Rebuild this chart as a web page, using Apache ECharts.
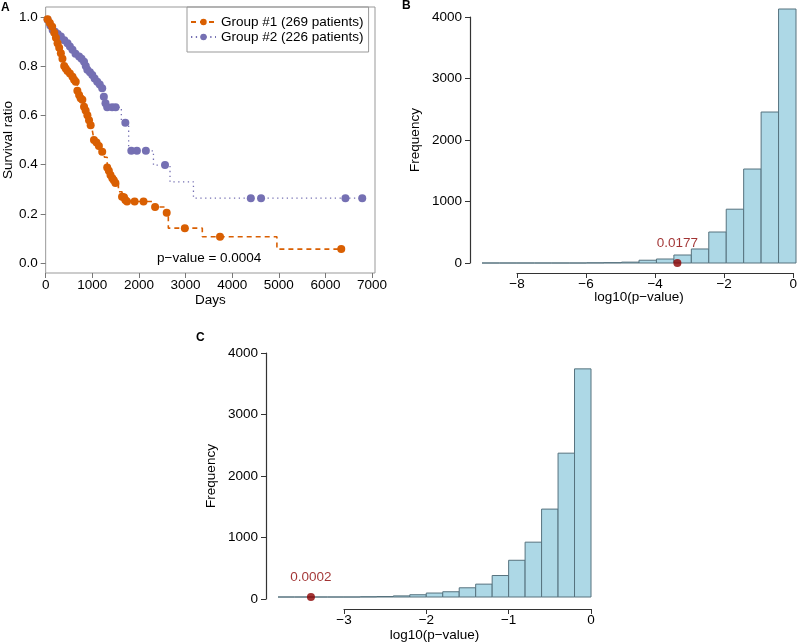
<!DOCTYPE html>
<html><head><meta charset="utf-8">
<script src="https://cdn.jsdelivr.net/npm/echarts@6/dist/echarts.min.js"></script>
<style>html,body{margin:0;padding:0;background:#fff}#c{width:800px;height:643px}</style>
</head><body><div id="c"></div>
<script>
// ---------- Panel A: Kaplan-Meier curves ----------
const groupNames = ['Group #1 (269 patients)', 'Group #2 (226 patients)'];
const g1Time = [0,40,90,140,185,220,255,290,326,360,397,430,468,520,575,610,645,680,717,750,787,823,857,895,930,965,1000,1036,1090,1142,1213,1260,1320,1355,1390,1430,1461,1496,1560,1638,1680,1709,1745,1908,2099,2300,2347,2560,2596,2631,2985,3360,3740,4960,6340];
const g1Surv = [1.0,0.99,0.975,0.96,0.935,0.915,0.893,0.875,0.852,0.83,0.80,0.79,0.78,0.77,0.757,0.745,0.737,0.70,0.683,0.67,0.663,0.635,0.62,0.60,0.58,0.56,0.54,0.50,0.49,0.476,0.452,0.43,0.388,0.375,0.358,0.345,0.337,0.325,0.29,0.27,0.268,0.256,0.25,0.25,0.25,0.228,0.228,0.205,0.205,0.142,0.142,0.107,0.107,0.057,0.057];
const g1Cens = [0,1,1,1,1,1,1,1,1,1,1,1,1,1,1,1,1,1,1,1,1,1,1,1,1,1,0,1,1,1,1,0,1,1,1,1,1,1,0,1,1,1,1,1,1,0,1,0,1,0,1,0,1,0,1];
const g2Time = [0,42,100,150,200,260,326,400,468,520,575,640,717,770,823,860,894,950,1000,1050,1106,1160,1213,1248,1283,1320,1425,1500,1623,1709,1780,1837,1957,2149,2312,2560,2667,3170,4400,4620,6430,6790];
const g2Surv = [1.0,0.988,0.965,0.947,0.94,0.93,0.92,0.905,0.893,0.88,0.866,0.85,0.839,0.83,0.818,0.80,0.785,0.775,0.764,0.75,0.737,0.725,0.71,0.676,0.649,0.633,0.633,0.633,0.57,0.57,0.456,0.456,0.456,0.456,0.398,0.398,0.33,0.264,0.264,0.264,0.264,0.264];
const g2Cens = [0,1,1,1,1,1,1,1,1,1,1,1,1,1,1,1,1,1,1,1,1,1,1,1,1,1,1,1,0,1,0,1,1,1,0,1,0,0,1,1,1,1];
const daysTicks = [0,1000,2000,3000,4000,5000,6000,7000];
const survTicks = [0.0,0.2,0.4,0.6,0.8,1.0];
const pValueText = 'p\u2212value = 0.0004';

// ---------- Panel B: histogram ----------
const bLower = [-9,-8.5,-8,-7.5,-7,-6.5,-6,-5.5,-5,-4.5,-4,-3.5,-3,-2.5,-2,-1.5,-1,-0.5];
const bUpper = [-8.5,-8,-7.5,-7,-6.5,-6,-5.5,-5,-4.5,-4,-3.5,-3,-2.5,-2,-1.5,-1,-0.5,0];
const bCounts = [0,0,0,0,0,0,3,6,14,45,65,130,228,504,875,1528,2455,4130];
const bXTicks = [-8,-6,-4,-2,0];
const bObsX = [-3.4];
const bObsLabel = ['0.0177'];

// ---------- Panel C: histogram ----------
const cLower = [-3.8,-3.6,-3.4,-3.2,-3.0,-2.8,-2.6,-2.4,-2.2,-2.0,-1.8,-1.6,-1.4,-1.2,-1.0,-0.8,-0.6,-0.4,-0.2];
const cUpper = [-3.6,-3.4,-3.2,-3.0,-2.8,-2.6,-2.4,-2.2,-2.0,-1.8,-1.6,-1.4,-1.2,-1.0,-0.8,-0.6,-0.4,-0.2,0];
const cCounts = [0,0,0,0,0,4,8,18,37,65,86,151,211,352,602,899,1441,2358,3740];
const cXTicks = [-3,-2,-1,0];
const cObsX = [-3.4];
const cObsLabel = ['0.0002'];

const freqTicks = [0,1000,2000,3000,4000];

const FONT = 'Liberation Sans, Arial, Helvetica, sans-serif';
const FS = 13.5;
const ORANGE = '#D95F02', PURPLE = '#7570B3', DARKRED = '#8B0000', AXIS = '#333';
const minus = v => String(v).replace('-', '\u2212');
const plain = v => String(v);

function kmData(t, s, c) {
  return t.map((x, i) => ({ value: [x, s[i]], symbol: c[i] ? 'circle' : 'none' }));
}
function histData(lo, hi, n) { return lo.map((x, i) => [x, hi[i], n[i]]); }
function histItem(params, api) {
  const p0 = api.coord([api.value(0), api.value(2)]);
  const p1 = api.coord([api.value(1), 0]);
  return { type: 'rect', shape: { x: p0[0], y: p0[1], width: p1[0] - p0[0], height: p1[1] - p0[1] },
    style: { fill: '#ADD8E6', stroke: '#56727e', lineWidth: 1 } };
}
const txt = { color: '#000', fontFamily: FONT, fontSize: FS };
const off = { axisLine: { show: false, onZero: false }, axisTick: { show: false }, axisLabel: { show: false }, splitLine: { show: false } };
const hidden = (gi, min, max) => ({ gridIndex: gi, type: 'value', min, max, ...off });
const shownX = (gi, min, max, ticks) => ({ gridIndex: gi, type: 'value', min, max, position: 'bottom',
  axisLine: { show: true, onZero: false, lineStyle: { color: AXIS, width: 1.2 } },
  axisTick: { show: true, customValues: ticks, length: 5, lineStyle: { color: AXIS } },
  axisLabel: { customValues: ticks, margin: 4, formatter: minus, ...txt }, splitLine: { show: false } });
const shownY = (gi) => ({ gridIndex: gi, type: 'value', min: 0, max: 4000, position: 'left',
  axisLine: { show: true, onZero: false, lineStyle: { color: AXIS, width: 1.2 } },
  axisTick: { show: true, customValues: freqTicks, length: 5, lineStyle: { color: AXIS } },
  axisLabel: { customValues: freqTicks, margin: 8, formatter: plain, ...txt }, splitLine: { show: false },
  name: 'Frequency', nameLocation: 'middle', nameGap: 48, nameTextStyle: txt });

const chart = echarts.init(document.getElementById('c'), null, { renderer: 'canvas' });
chart.setOption({
  animation: false,
  backgroundColor: '#fff',
  grid: [
    { left: 43, top: 7, width: 332, height: 266, show: true, borderColor: '#999', borderWidth: 1 },
    { left: 482, top: 17, width: 314, height: 246 },   // B plot
    { left: 517, top: 17, width: 279, height: 256 },   // B x-axis
    { left: 470, top: 17, width: 20, height: 246 },    // B y-axis
    { left: 278, top: 353, width: 313, height: 246 },  // C plot
    { left: 344, top: 353, width: 247, height: 256 },  // C x-axis
    { left: 266, top: 353, width: 20, height: 246 }    // C y-axis
  ],
  legend: {
    data: groupNames, orient: 'vertical', left: 187, top: 7,
    itemWidth: 25, itemHeight: 8, itemGap: 1, itemTextGap: 13,
    padding: [8, 5, 8, 3], borderColor: '#999', borderWidth: 1,
    textStyle: txt, selectedMode: false
  },
  xAxis: [
    { gridIndex: 0, type: 'value', min: 0, max: 7064, position: 'bottom',
      axisLine: { show: false, onZero: false }, splitLine: { show: false },
      axisTick: { show: true, customValues: daysTicks, length: 5, lineStyle: { color: '#777' } },
      axisLabel: { customValues: daysTicks, margin: 5, formatter: plain, ...txt },
      name: 'Days', nameLocation: 'middle', nameGap: 19, nameTextStyle: txt },
    { ...hidden(1, -9, 0), name: 'log10(p\u2212value)', nameLocation: 'middle', nameGap: 27, nameTextStyle: txt },
    shownX(2, -8, 0, bXTicks),
    hidden(3, 0, 1),
    { ...hidden(4, -3.8, 0), name: 'log10(p\u2212value)', nameLocation: 'middle', nameGap: 31, nameTextStyle: txt },
    shownX(5, -3, 0, cXTicks),
    hidden(6, 0, 1)
  ],
  yAxis: [
    { gridIndex: 0, type: 'value', min: -0.04, max: 1.04, position: 'left',
      axisLine: { show: false, onZero: false }, splitLine: { show: false },
      axisTick: { show: true, customValues: survTicks, length: 5, lineStyle: { color: '#777' } },
      axisLabel: { customValues: survTicks, margin: 8, formatter: v => v.toFixed(1), ...txt },
      name: 'Survival ratio', nameLocation: 'middle', nameGap: 28, nameTextStyle: txt },
    hidden(1, 0, 4000),
    hidden(2, 0, 1),
    shownY(3),
    hidden(4, 0, 4000),
    hidden(5, 0, 1),
    shownY(6)
  ],
  series: [
    { name: groupNames[0], type: 'line', xAxisIndex: 0, yAxisIndex: 0, step: 'end',
      data: kmData(g1Time, g1Surv, g1Cens), symbol: 'circle', symbolSize: 8, showSymbol: true,
      lineStyle: { color: ORANGE, width: 1.6, type: [5, 4] }, itemStyle: { color: ORANGE }, silent: true, z: 3 },
    { name: groupNames[1], type: 'line', xAxisIndex: 0, yAxisIndex: 0, step: 'end',
      data: kmData(g2Time, g2Surv, g2Cens), symbol: 'circle', symbolSize: 8, showSymbol: true,
      lineStyle: { color: PURPLE, width: 1.3, type: [1.3, 3.5] }, itemStyle: { color: PURPLE }, silent: true, z: 2 },
    { type: 'custom', xAxisIndex: 1, yAxisIndex: 1, renderItem: histItem, clip: false,
      data: histData(bLower, bUpper, bCounts), encode: { x: [0, 1], y: 2 }, silent: true },
    { type: 'scatter', xAxisIndex: 1, yAxisIndex: 1, data: bObsX.map(x => [x, 0]), symbolSize: 8,
      itemStyle: { color: DARKRED }, silent: true, z: 5,
      label: { show: true, position: 'top', distance: 9, formatter: p => bObsLabel[p.dataIndex], color: DARKRED, fontFamily: FONT, fontSize: FS } },
    { type: 'custom', xAxisIndex: 4, yAxisIndex: 4, renderItem: histItem, clip: false,
      data: histData(cLower, cUpper, cCounts), encode: { x: [0, 1], y: 2 }, silent: true },
    { type: 'scatter', xAxisIndex: 4, yAxisIndex: 4, data: cObsX.map(x => [x, 0]), symbolSize: 8,
      itemStyle: { color: DARKRED }, silent: true, z: 5,
      label: { show: true, position: 'top', distance: 9, formatter: p => cObsLabel[p.dataIndex], color: DARKRED, fontFamily: FONT, fontSize: FS } }
  ],
  graphic: [
    { type: 'text', left: 1, top: 2, style: { text: 'A', font: 'bold 12px ' + FONT, fill: '#000' } },
    { type: 'text', left: 402, top: 0, style: { text: 'B', font: 'bold 12px ' + FONT, fill: '#000' } },
    { type: 'text', left: 196, top: 332, style: { text: 'C', font: 'bold 12px ' + FONT, fill: '#000' } },
    { type: 'text', x: 157, y: 258, style: { text: pValueText, font: FS + 'px ' + FONT, fill: '#000', verticalAlign: 'middle' } }
  ]
});
</script></body></html>
